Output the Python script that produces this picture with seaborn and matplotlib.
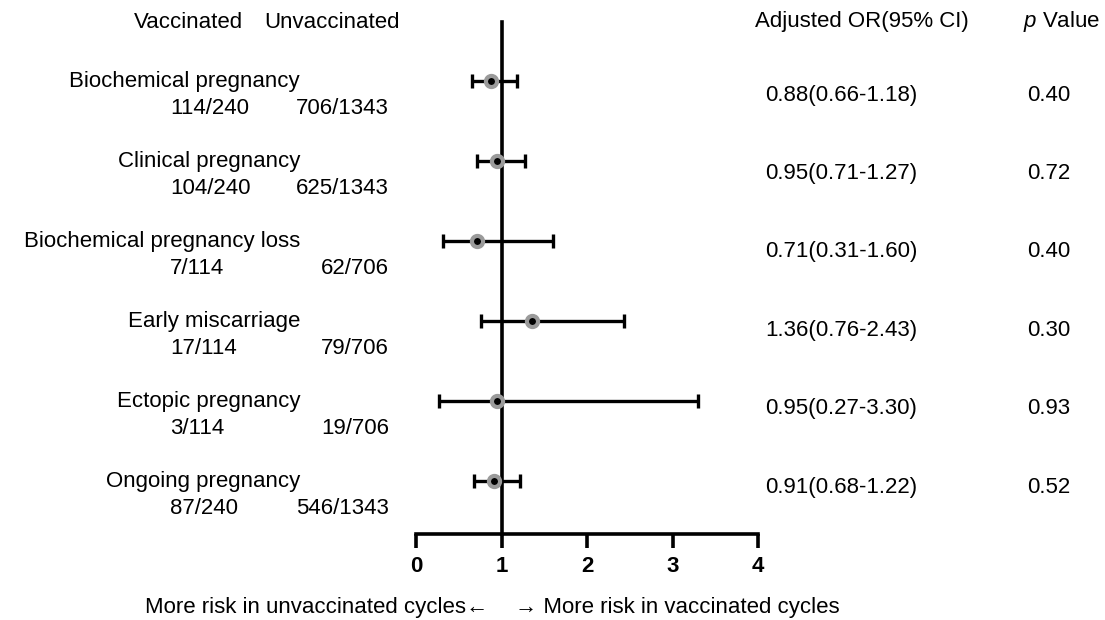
import matplotlib
matplotlib.use("Agg")
import matplotlib.pyplot as plt
import matplotlib.transforms as mtransforms
import numpy as np
import seaborn as sns


outcomes = [
    "Biochemical pregnancy",
    "Clinical pregnancy",
    "Biochemical pregnancy loss",
    "Early miscarriage",
    "Ectopic pregnancy",
    "Ongoing pregnancy",
]
vacc_counts = ["114/240", "104/240", "7/114", "17/114", "3/114", "87/240"]
unvacc_counts = ["706/1343", "625/1343", "62/706", "79/706", "19/706", "546/1343"]
or_est = [0.88, 0.95, 0.71, 1.36, 0.95, 0.91]
ci_low = [0.66, 0.71, 0.31, 0.76, 0.27, 0.68]
ci_high = [1.18, 1.27, 1.60, 2.43, 3.30, 1.22]
p_values = ["0.40", "0.72", "0.40", "0.30", "0.93", "0.52"]
x_ticks = [0, 1, 2, 3, 4]


sns.set_theme(style="white")
plt.rcParams["font.family"] = ["Liberation Sans", "DejaVu Sans"]
plt.rcParams["text.color"] = "black"
plt.rcParams["xtick.color"] = "black"
plt.rcParams["mathtext.fontset"] = "custom"
plt.rcParams["mathtext.it"] = "Liberation Sans:italic"
plt.rcParams["mathtext.rm"] = "Liberation Sans"

FS = 16
LW = 2.4

fig = plt.figure(figsize=(11.05, 6.2), dpi=100)
ax = fig.add_axes([0.3765, 0.1387, 0.3095, 0.8258])

rows = np.arange(len(outcomes))
est = np.array(or_est)
lo = np.array(ci_low)
hi = np.array(ci_high)

ax.errorbar(
    est, rows, xerr=[est - lo, hi - est], fmt="none",
    ecolor="black", elinewidth=LW, capsize=5, capthick=LW, zorder=2,
)
sns.scatterplot(
    x=est, y=rows, ax=ax, s=64, color="black",
    edgecolor="#9a9a9a", linewidth=3.0, zorder=3, legend=False,
)

ax.set_xlim(0, 4)
ax.set_ylim(5.6625, -0.7375)
ax.set_xticks(x_ticks)
ax.set_xticklabels([str(t) for t in x_ticks], fontsize=16, fontweight="bold")
ax.set_yticks([])
ax.set_xlabel("")
ax.set_ylabel("")

for side in ["top", "right"]:
    ax.spines[side].set_visible(False)
ax.spines["left"].set_position(("data", 1))
for side in ["left", "bottom"]:
    ax.spines[side].set_color("black")
    ax.spines[side].set_linewidth(2.6)
ax.tick_params(axis="x", direction="out", length=10, width=2.6,
               color="black", pad=6, bottom=True)

# text columns: x in figure fraction, y in row units
tr = mtransforms.blended_transform_factory(fig.transFigure, ax.transData)

fig.text(0.171, 1 - 22 / 620, "Vaccinated", fontsize=FS, ha="center", va="center")
fig.text(0.362, 1 - 22 / 620, "Unvaccinated", fontsize=FS, ha="right", va="center")
fig.text(0.780, 1 - 22 / 620, "Adjusted OR(95% CI)", fontsize=FS, ha="center", va="center")
fig.text(0.961, 1 - 22 / 620, r"$\mathit{p}$ Value", fontsize=FS, ha="center", va="center")

for i in range(len(outcomes)):
    ax.text(0.2715, i, outcomes[i], transform=tr, fontsize=FS,
            ha="right", va="center", clip_on=False)
    ax.text(0.1538, i + 0.3375, vacc_counts[i], transform=tr, fontsize=FS,
            ha="left", va="center", clip_on=False)
    ax.text(0.352, i + 0.3375, unvacc_counts[i], transform=tr, fontsize=FS,
            ha="right", va="center", clip_on=False)
    y_or = 0.175 + 0.98 * i
    label = "{:.2f}({:.2f}-{:.2f})".format(or_est[i], ci_low[i], ci_high[i])
    ax.text(0.761, y_or, label, transform=tr, fontsize=FS,
            ha="center", va="center", clip_on=False)
    ax.text(0.949, y_or, p_values[i], transform=tr, fontsize=FS,
            ha="center", va="center", clip_on=False)

fig.text(0.4416, 1 - 608 / 620, "More risk in unvaccinated cycles\u2190",
         fontsize=FS, ha="right", va="center")
fig.text(0.466, 1 - 608 / 620, "\u2192 More risk in vaccinated cycles",
         fontsize=FS, ha="left", va="center")

fig.savefig("out.png", dpi=100)
plt.close(fig)
